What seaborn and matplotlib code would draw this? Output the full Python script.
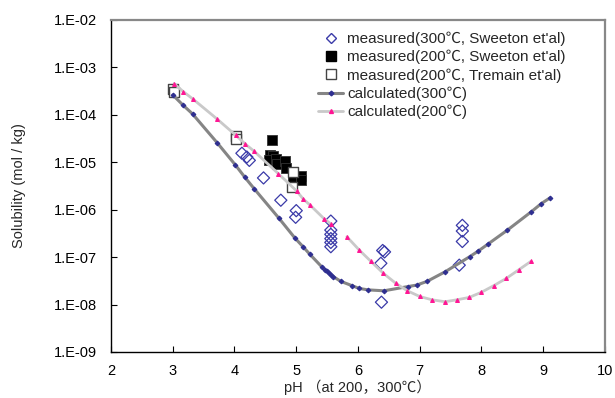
import numpy as np
import matplotlib
matplotlib.use("Agg")
import matplotlib.pyplot as plt
from matplotlib.lines import Line2D
from matplotlib.ticker import FuncFormatter, NullLocator
import seaborn as sns

# ===============================
# Data (pH, log10 solubility)
# ===============================
meas300_ph = [4.12, 4.20, 4.24, 4.47, 4.75, 5.00, 4.99, 5.56, 5.56, 5.56, 5.56,
              5.56, 5.56, 6.40, 6.43, 6.37, 6.38, 7.69, 7.69, 7.69, 7.64]
meas300_log = [-4.81, -4.89, -4.96, -5.33, -5.80, -6.02, -6.16, -6.24, -6.43, -6.52, -6.61,
               -6.69, -6.78, -6.86, -6.89, -7.13, -7.95, -6.33, -6.45, -6.67, -7.17]

sweeton200_ph = [4.61, 4.57, 4.63, 4.56, 4.68, 4.69, 4.82, 4.83, 4.94, 5.08, 5.08]
sweeton200_log = [-4.52, -4.84, -4.87, -4.96, -4.94, -5.04, -4.98, -5.13, -5.35, -5.29, -5.38]

tremain200_ph = [3.00, 3.02, 4.02, 4.03, 4.94, 4.93]
tremain200_log = [-3.45, -3.52, -4.44, -4.51, -5.21, -5.53]

calc300_ph = [3.00, 3.17, 3.32, 3.72, 4.01, 4.17, 4.32, 4.72, 4.98, 5.11, 5.22,
              5.41, 5.47, 5.50, 5.53, 5.56, 5.60, 5.72, 5.90, 6.02, 6.16, 6.42,
              6.81, 6.95, 7.12, 7.41, 7.81, 7.95, 8.10, 8.42, 8.81, 8.97, 9.11]
calc300_log = [-3.58, -3.80, -3.98, -4.59, -5.05, -5.32, -5.56, -6.18, -6.60, -6.78, -6.94,
               -7.20, -7.27, -7.30, -7.33, -7.37, -7.41, -7.51, -7.60, -7.66, -7.69, -7.71,
               -7.62, -7.59, -7.51, -7.31, -6.99, -6.87, -6.73, -6.43, -6.04, -5.87, -5.75]

# the 200 C curve has a break between pH 5.6 and 5.8
calc200a_ph = [3.02, 3.17, 3.33, 3.72, 4.02, 4.17, 4.32, 4.71, 5.01, 5.11, 5.23, 5.45, 5.57]
calc200a_log = [-3.34, -3.51, -3.67, -4.09, -4.43, -4.61, -4.77, -5.24, -5.61, -5.77, -5.91, -6.19, -6.31]
calc200b_ph = [5.82, 6.02, 6.21, 6.41, 6.61, 6.80, 7.00, 7.20, 7.41, 7.60, 7.80,
               8.00, 8.20, 8.40, 8.60, 8.80]
calc200b_log = [-6.57, -6.85, -7.09, -7.34, -7.55, -7.71, -7.83, -7.90, -7.94, -7.90, -7.85,
                -7.74, -7.60, -7.45, -7.27, -7.09]

labels = [
    "measured(300\u2103, Sweeton et'al)",
    "measured(200\u2103, Sweeton et'al)",
    "measured(200\u2103, Tremain et'al)",
    "calculated(300\u2103)",
    "calculated(200\u2103)",
]


def sol(vals):
    return 10.0 ** np.array(vals)


# ===============================
# Style
# ===============================
sns.set_theme(style="ticks")
plt.rcParams["font.family"] = ["Liberation Sans", "Noto Sans CJK JP"]

c_diam = "#3a3aa8"
c_line300 = "#858585"
c_mk300 = "#2e2e90"
c_line200 = "#c9c9c9"
c_mk200 = "#ff1493"

fig = plt.figure(figsize=(6.15, 3.98), dpi=100)
ax = fig.add_axes([0.1805, 0.1156, 0.8032, 0.8342])
ax.set_yscale("log")

# ===============================
# Measured points
# ===============================
sns.scatterplot(x=meas300_ph, y=sol(meas300_log), ax=ax, marker="D", s=38,
                facecolor="none", edgecolor=c_diam, linewidth=0.9, zorder=3)
sns.scatterplot(x=sweeton200_ph, y=sol(sweeton200_log), ax=ax, marker="s", s=55,
                color="black", edgecolor="#333333", linewidth=0.6, zorder=3)
sns.scatterplot(x=tremain200_ph, y=sol(tremain200_log), ax=ax, marker="s", s=55,
                facecolor="white", edgecolor="#444444", linewidth=1.0, zorder=3)

# ===============================
# Calculated curves
# ===============================
sns.lineplot(x=calc300_ph, y=sol(calc300_log), ax=ax, sort=False, color=c_line300,
             linewidth=2.2, marker="D", markersize=2.4, markerfacecolor=c_mk300,
             markeredgecolor=c_mk300, zorder=4)
for xs, ys in [(calc200a_ph, calc200a_log), (calc200b_ph, calc200b_log)]:
    sns.lineplot(x=xs, y=sol(ys), ax=ax, sort=False, color=c_line200,
                 linewidth=2.0, marker="^", markersize=2.8, markerfacecolor=c_mk200,
                 markeredgecolor=c_mk200, zorder=4)

# ===============================
# Axes
# ===============================
ax.set_xlim(2, 10)
ax.set_ylim(1e-9, 1e-2)
ax.set_xticks(range(2, 11))
ax.set_yticks([10.0 ** k for k in range(-9, -1)])
ax.yaxis.set_minor_locator(NullLocator())
ax.yaxis.set_major_formatter(
    FuncFormatter(lambda v, p: "1.E{:+03d}".format(int(round(np.log10(v))))))
ax.tick_params(direction="in", length=4, width=0.8, labelsize=10.5, colors="black",
               top=False, right=False)
ax.tick_params(axis="y", pad=10)
ax.tick_params(axis="x", pad=9)
ax.set_xlabel("pH \uff08at 200\uff0c300\u2103\uff09", fontsize=10.5, labelpad=1)
ax.set_ylabel("Solubility (mol / kg)", fontsize=10.5, labelpad=20)

for side in ["left", "bottom"]:
    ax.spines[side].set_color("black")
    ax.spines[side].set_linewidth(1.0)
for side in ["top", "right"]:
    ax.spines[side].set_color("#888888")
    ax.spines[side].set_linewidth(1.6)

handles = [
    Line2D([], [], linestyle="none", marker="D", markersize=5.5,
           markerfacecolor="none", markeredgecolor=c_diam),
    Line2D([], [], linestyle="none", marker="s", markersize=6.5,
           markerfacecolor="black", markeredgecolor="black"),
    Line2D([], [], linestyle="none", marker="s", markersize=6.5,
           markerfacecolor="white", markeredgecolor="#444444"),
    Line2D([], [], color=c_line300, linewidth=2.2, marker="D", markersize=2.4,
           markerfacecolor=c_mk300, markeredgecolor=c_mk300),
    Line2D([], [], color=c_line200, linewidth=2.0, marker="^", markersize=2.8,
           markerfacecolor=c_mk200, markeredgecolor=c_mk200),
]
fig.legend(handles, labels, loc="upper left", bbox_to_anchor=(318 / 615, 1 - 31.5 / 398),
           bbox_transform=fig.transFigure, frameon=False, fontsize=11,
           handlelength=1.65, handletextpad=0.25, labelspacing=0.26,
           borderpad=0, borderaxespad=0)

plt.savefig("out.png", dpi=100)
